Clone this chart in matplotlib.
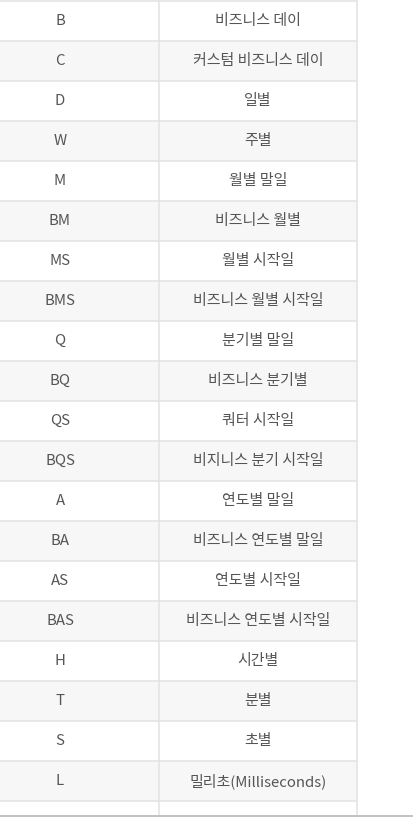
import matplotlib.pyplot as plt
from matplotlib.patches import Rectangle

plt.rcParams['font.family'] = ['Noto Sans CJK KR', 'DejaVu Sans']

codes = ['B', 'C', 'D', 'W', 'M', 'BM', 'MS', 'BMS', 'Q', 'BQ', 'QS', 'BQS',
         'A', 'BA', 'AS', 'BAS', 'H', 'T', 'S', 'L']
descriptions = ['비즈니스 데이', '커스텀 비즈니스 데이', '일별', '주별', '월별 말일',
                '비즈니스 월별', '월별 시작일', '비즈니스 월별 시작일', '분기별 말일',
                '비즈니스 분기별', '쿼터 시작일', '비지니스 분기 시작일', '연도별 말일',
                '비즈니스 연도별 말일', '연도별 시작일', '비즈니스 연도별 시작일',
                '시간별', '분별', '초별', '밀리초(Milliseconds)']

fig = plt.figure(figsize=(4.13, 8.18), dpi=100)
ax = fig.add_axes([0, 0, 1, 1])
ax.set_xlim(0, 413)
ax.set_ylim(818, 0)
ax.axis('off')

top, row_h, split, right = 1, 40, 159, 357
line_c = '#e4e4e4'
text_c = '#555555'

n = len(codes) + 1  # last row is cut off
for i in range(n):
    y0 = top + i * row_h
    if i % 2 == 1:
        ax.add_patch(Rectangle((0, y0), right, row_h, color='#f7f7f7', lw=0))
    ax.plot([0, right], [y0, y0], color=line_c, lw=1.2)
    if i < len(codes):
        ax.text(60, y0 + row_h / 2, codes[i], ha='center', va='center',
                fontsize=10.8, color=text_c)
        ax.text(258, y0 + row_h / 2, descriptions[i], ha='center', va='center',
                fontsize=10.8, color=text_c)

ax.plot([split, split], [0, 818], color=line_c, lw=1.2)
ax.plot([right, right], [0, 818], color=line_c, lw=1.2)
ax.add_patch(Rectangle((0, 815), 413, 3, color='#ffffff', lw=0, zorder=5))
ax.plot([0, 413], [815.5, 815.5], color='#b8b8b8', lw=1.2, zorder=6)

fig.savefig('out.png', dpi=100)
